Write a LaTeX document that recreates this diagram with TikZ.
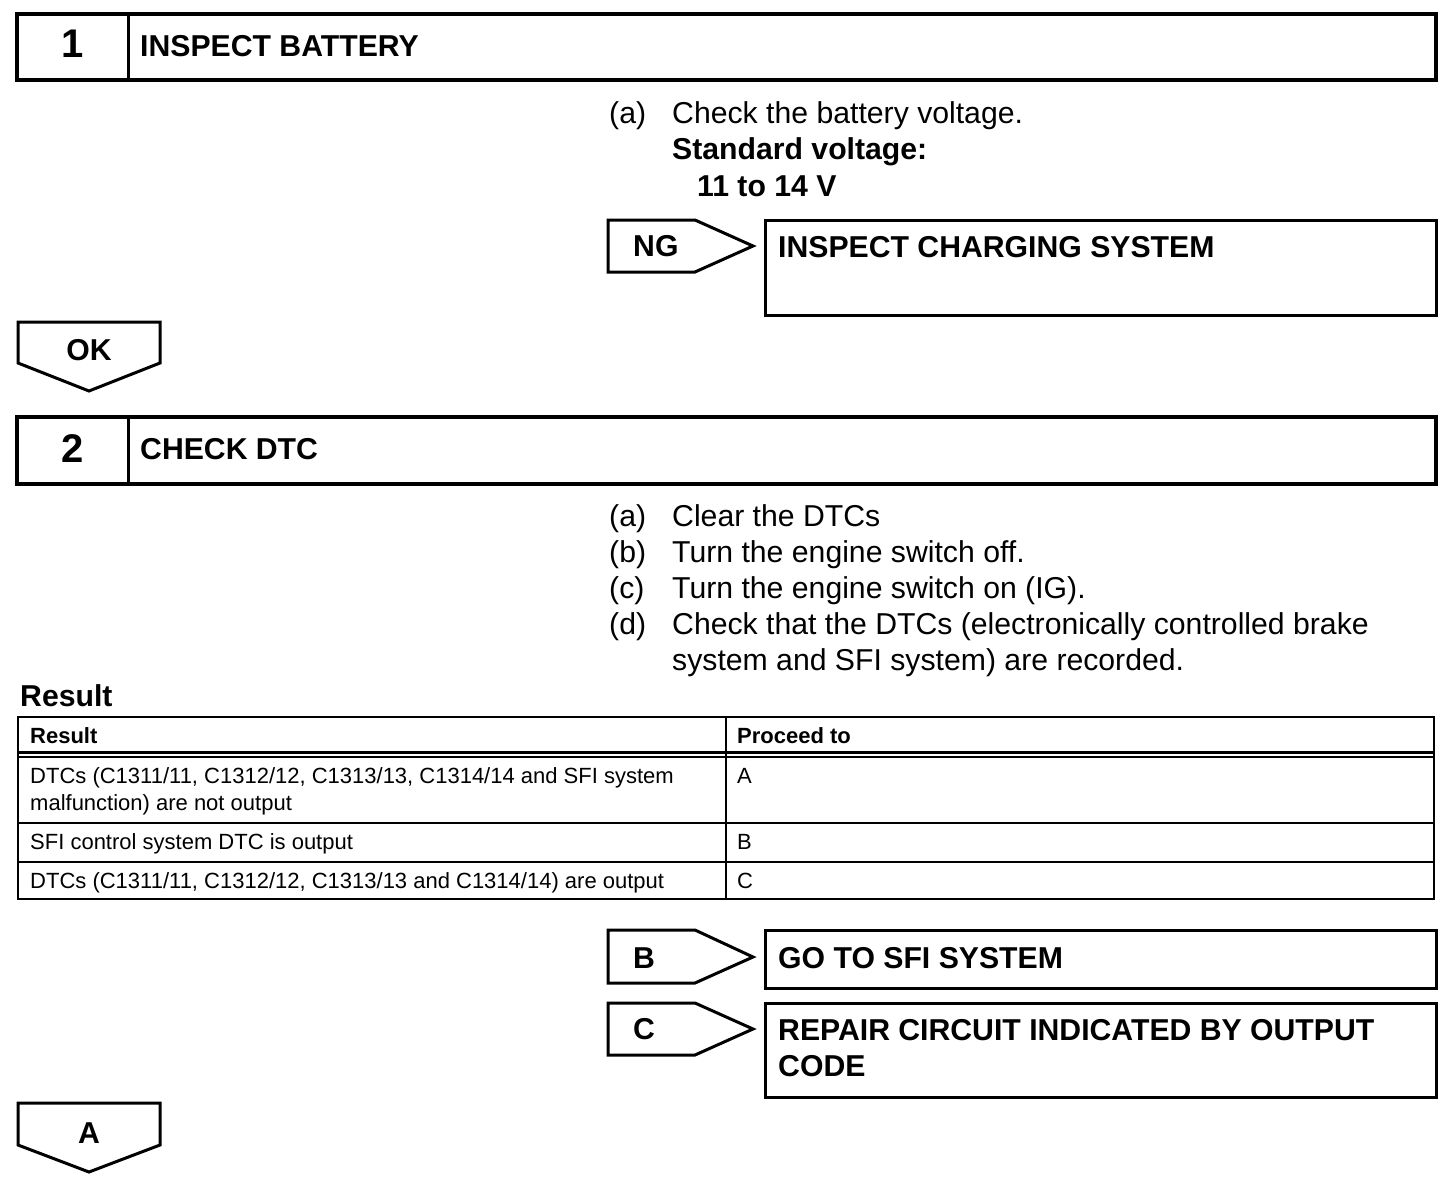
\documentclass[tikz,border=0pt]{standalone}
\usepackage{fontspec}
\setmainfont{Liberation Sans}
\begin{document}
\begin{tikzpicture}[x=1pt,y=-1pt,
  big/.style={font=\fontsize{30.2}{36}\selectfont, anchor=base west, inner sep=0pt},
  bigb/.style={font=\fontsize{30.2}{36}\selectfont\bfseries, anchor=base west, inner sep=0pt},
  numb/.style={font=\fontsize{40}{44}\selectfont\bfseries, anchor=base, inner sep=0pt},
  tab/.style={font=\fontsize{22}{27}\selectfont, anchor=base west, inner sep=0pt},
  tabb/.style={font=\fontsize{22}{27}\selectfont\bfseries, anchor=base west, inner sep=0pt},
  hbox/.style={line width=4pt},
  arr/.style={line width=3pt, line join=miter},
  tline/.style={line width=2pt}]
\useasboundingbox (0,0) rectangle (1456,1196);

% Step 1 header
\draw[hbox] (17,14) rectangle (1436,80);
\draw[line width=3pt] (128,14) -- (128,80);
\node[numb] (n1) at (73,58) {1};
\node[bigb] (t1) at (140,57) {INSPECT BATTERY};

\node[big] (a1l) at (609,124) {(a)};
\node[big] (a1) at (672,124) {Check the battery voltage.};
\node[bigb] (sv) at (672,160) {Standard voltage:};
\node[bigb] (sv2) at (697,196) {11 to 14 V};

% NG
\draw[arr] (608,220) -- (695,220) -- (753,246) -- (695,272) -- (608,272) -- cycle;
\node[bigb] (ng) at (633,256) {NG};
\draw[arr] (765,220) rectangle (1436,315);
\node[bigb] (ics) at (778,257) {INSPECT CHARGING SYSTEM};

% OK
\draw[arr] (18,322) -- (160,322) -- (160,363) -- (89,391) -- (18,363) -- cycle;
\node[bigb, anchor=base] (ok) at (89,360) {OK};

% Step 2 header
\draw[hbox] (17,417) rectangle (1436,484);
\draw[line width=3pt] (128,417) -- (128,484);
\node[numb] (n2) at (73,462) {2};
\node[bigb] (t2) at (140,459) {CHECK DTC};

\node[big] (la) at (609,526) {(a)};
\node[big] (ta) at (672,526) {Clear the DTCs};
\node[big] (lb) at (609,562) {(b)};
\node[big] (tb) at (672,562) {Turn the engine switch off.};
\node[big] (lc) at (609,598) {(c)};
\node[big] (tc) at (672,598) {Turn the engine switch on (IG).};
\node[big] (ld) at (609,634) {(d)};
\node[big] (td) at (672,634) {Check that the DTCs (electronically controlled brake};
\node[big] (td2) at (672,670) {system and SFI system) are recorded.};

\node[bigb] (res) at (20,706) {Result};

% Table
\draw[tline] (18,717) rectangle (1434,899);
\draw[tline] (726,717) -- (726,899);
\draw[line width=3pt] (18,752.5) -- (1434,752.5);
\draw[line width=1.5pt] (18,757) -- (1434,757);
\draw[tline] (18,823) -- (1434,823);
\draw[tline] (18,862) -- (1434,862);
\node[tabb] (h1) at (30,743) {Result};
\node[tabb] (h2) at (737,743) {Proceed to};
\node[tab] (r1a) at (30,783) {DTCs (C1311/11, C1312/12, C1313/13, C1314/14 and SFI system};
\node[tab] (r1b) at (30,810) {malfunction) are not output};
\node[tab] (p1) at (737,783) {A};
\node[tab] (r2) at (30,849) {SFI control system DTC is output};
\node[tab] (p2) at (737,849) {B};
\node[tab] (r3) at (30,888) {DTCs (C1311/11, C1312/12, C1313/13 and C1314/14) are output};
\node[tab] (p3) at (737,888) {C};

% B
\draw[arr] (608,930) -- (695,930) -- (753,957) -- (695,983) -- (608,983) -- cycle;
\node[bigb] (bl) at (633,968) {B};
\draw[arr] (765,930) rectangle (1436,988);
\node[bigb] (gsfi) at (778,968) {GO TO SFI SYSTEM};

% C
\draw[arr] (608,1003) -- (695,1003) -- (753,1029) -- (695,1055) -- (608,1055) -- cycle;
\node[bigb] (cl) at (633,1039) {C};
\draw[arr] (765,1003) rectangle (1436,1097);
\node[bigb] (rc1) at (778,1040) {REPAIR CIRCUIT INDICATED BY OUTPUT};
\node[bigb] (rc2) at (778,1076) {CODE};

% A
\draw[arr] (18,1103) -- (160,1103) -- (160,1145) -- (89,1172) -- (18,1145) -- cycle;
\node[bigb, anchor=base] (al) at (89,1143) {A};
\end{tikzpicture}
\end{document}
